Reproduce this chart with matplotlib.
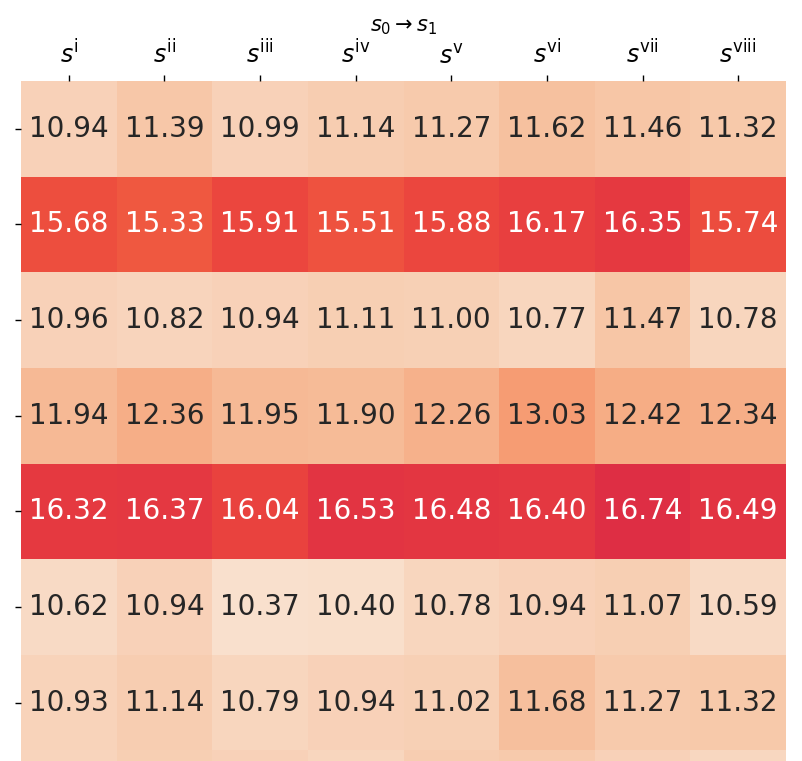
import matplotlib
matplotlib.use("Agg")
import matplotlib.pyplot as plt
import seaborn as sns
import numpy as np

col_labels = [r"$s^{\mathrm{i}}$", r"$s^{\mathrm{ii}}$", r"$s^{\mathrm{iii}}$", r"$s^{\mathrm{iv}}$",
              r"$s^{\mathrm{v}}$", r"$s^{\mathrm{vi}}$", r"$s^{\mathrm{vii}}$", r"$s^{\mathrm{viii}}$"]
row1 = [10.94, 11.39, 10.99, 11.14, 11.27, 11.62, 11.46, 11.32]
row2 = [15.68, 15.33, 15.91, 15.51, 15.88, 16.17, 16.35, 15.74]
row3 = [10.96, 10.82, 10.94, 11.11, 11.00, 10.77, 11.47, 10.78]
row4 = [11.94, 12.36, 11.95, 11.90, 12.26, 13.03, 12.42, 12.34]
row5 = [16.32, 16.37, 16.04, 16.53, 16.48, 16.40, 16.74, 16.49]
row6 = [10.62, 10.94, 10.37, 10.40, 10.78, 10.94, 11.07, 10.59]
row7 = [10.93, 11.14, 10.79, 10.94, 11.02, 11.68, 11.27, 11.32]
row8 = [10.85, 11.10, 10.95, 10.80, 11.15, 11.30, 10.95, 10.75]  # cut off in reference, estimated from colour

data = np.array([row1, row2, row3, row4, row5, row6, row7, row8])
labels = np.array([[f"{v:.2f}" for v in r] for r in data], dtype=object)
labels[-1, :] = ""  # last row's numbers fall outside the picture

fig = plt.figure(figsize=(8.02, 7.61), dpi=100)
W, H = 802, 761
left, right, top = 21, 786, 81
cell = (right - left) / 8
bottom = top + cell * 8
ax = fig.add_axes([left / W, 1 - bottom / H, (right - left) / W, (bottom - top) / H])

sns.heatmap(data, ax=ax, cmap="rocket_r", vmin=9.9, vmax=25.5, annot=labels, fmt="",
            annot_kws={"fontsize": 20}, cbar=False, xticklabels=col_labels, yticklabels=False)
ax.set_yticks(np.arange(data.shape[0]) + 0.5)
ax.set_yticklabels([])
ax.tick_params(axis="y", left=True, length=4, width=1)
ax.xaxis.tick_top()
ax.xaxis.set_label_position("top")
ax.tick_params(axis="x", top=True, bottom=False, length=4, width=1, labelsize=17, labelrotation=0, pad=5)
ax.set_xlabel(r"$s_0 \rightarrow s_1$", fontsize=15, labelpad=6)

fig.savefig("out.png", dpi=100)
